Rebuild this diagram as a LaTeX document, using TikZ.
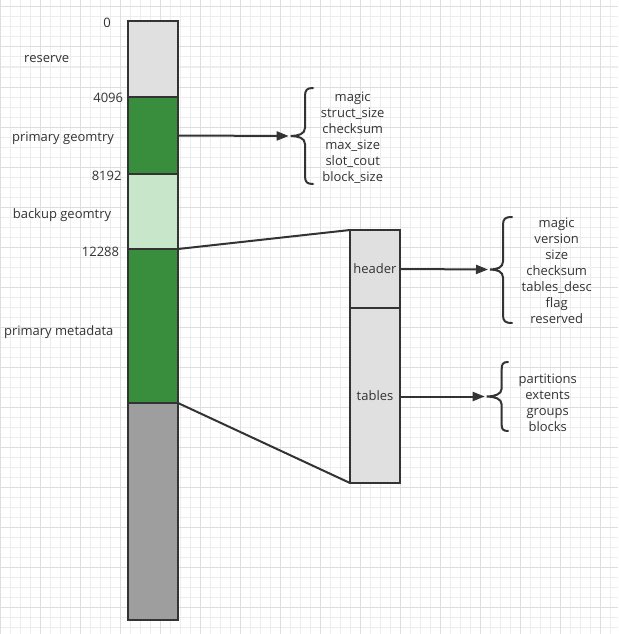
\documentclass[tikz,border=0pt]{standalone}
\usepackage{fontspec}
\setmainfont{Open Sans}
\usetikzlibrary{arrows.meta}
\definecolor{strk}{HTML}{333333}
\definecolor{txt}{HTML}{333333}
\definecolor{lgray}{HTML}{E0E0E0}
\definecolor{dgreen}{HTML}{388E3C}
\definecolor{lgreen}{HTML}{C8E6C9}
\definecolor{mgray}{HTML}{9E9E9E}
\definecolor{gminor}{HTML}{EDEDED}
\definecolor{gmajor}{HTML}{DEDEDE}
\tikzset{
  seg/.style={draw=strk, line width=2pt, minimum width=50pt, inner sep=0pt, outer sep=0pt, text=txt, font=\fontsize{13}{16}\selectfont},
  lbl/.style={text=txt, inner sep=0pt, font=\fontsize{13}{16}\selectfont, text height=9pt, text depth=3pt},
  lst/.style={text=txt, inner sep=0pt, align=center, font=\fontsize{13}{16}\selectfont},
  conn/.style={draw=strk, line width=2pt},
  arr/.style={draw=strk, line width=2pt, -{Triangle[length=12pt,width=9pt]}, shorten >=2pt},
  brc/.style={draw=strk, line width=2pt, line cap=round},
  gmin/.style={draw=gminor, line width=1pt},
  gmaj/.style={draw=gmajor, line width=1pt}
}
\begin{document}
\begin{tikzpicture}[x=1pt,y=-1pt]
\useasboundingbox (0,0) rectangle (618,634);
\fill[white] (0,0) rectangle (618,634);
% grid
\foreach \x in {0,10,...,610} \draw[gmin] (\x,0) -- (\x,634);
\foreach \y in {7,17,...,627} \draw[gmin] (0,\y) -- (618,\y);
\foreach \x in {0,40,...,600} \draw[gmaj] (\x,0) -- (\x,634);
\foreach \y in {7,47,...,607} \draw[gmaj] (0,\y) -- (618,\y);
% main column
\node[seg, fill=lgray, minimum height=76pt] (reserve) at (153,59) {};
\node[seg, fill=dgreen, minimum height=77pt] (pgeo) at (153,135.5) {};
\node[seg, fill=lgreen, minimum height=75pt] (bgeo) at (153,211.5) {};
\node[seg, fill=dgreen, minimum height=154pt] (pmeta) at (153,326) {};
\node[seg, fill=mgray, minimum height=217pt] (rest) at (153,511.5) {};
% labels
\node[lbl, anchor=east] (l0) at (111,24.5) {0};
\node[lbl] (lres) at (46.7,60) {reserve};
\node[lbl, anchor=east] (l4096) at (123.3,99.5) {4096};
\node[lbl] (lpg) at (63,138.5) {primary geomtry};
\node[lbl, anchor=east] (l8192) at (121.7,177) {8192};
\node[lbl] (lbg) at (62,215) {backup geomtry};
\node[lbl, anchor=east] (l12288) at (119.3,253.5) {12288};
\node[lbl] (lpm) at (58.7,332) {primary metadata};
% detail column
\node[seg, fill=lgray, minimum height=78pt] (header) at (375,269) {header};
\node[seg, fill=lgray, minimum height=175pt] (tables) at (375,395.5) {tables};
% connectors
\draw[conn] (pmeta.north east) -- (header.north west);
\draw[conn] (pmeta.south east) -- (tables.south west);
% braces
\coordinate (b1) at (290.7,136);
\draw[brc] (313,88) .. controls (307,88) and (305,90) .. (305,96) -- (305,128) .. controls (305,134) and (298,136) .. (b1) .. controls (298,136) and (305,138) .. (305,144) -- (305,176) .. controls (305,182) and (307,184) .. (313,184);
\coordinate (b2) at (490,269.5);
\draw[brc] (512,217) .. controls (505,217) and (503,219) .. (503,225) -- (503,261.5) .. controls (503,267.5) and (497,269.5) .. (b2) .. controls (497,269.5) and (503,271.5) .. (503,277.5) -- (503,315) .. controls (503,321) and (505,323) .. (512,323);
\coordinate (b3) at (486.7,396.5);
\draw[brc] (508,362) .. controls (503,362) and (501.7,364) .. (501.7,369) -- (501.7,388.5) .. controls (501.7,394.5) and (494,396.5) .. (b3) .. controls (494,396.5) and (501.7,398.5) .. (501.7,404.5) -- (501.7,425) .. controls (501.7,429) and (503,431) .. (508,431);
% lists
\node[lst] (list1) at (352.7,138.2) {magic\\struct\_size\\checksum\\max\_size\\slot\_cout\\block\_size};
\node[lst] (list2) at (556.7,271) {magic\\version\\size\\checksum\\tables\_desc\\flag\\reserved};
\node[lst] (list3) at (547.7,402.7) {partitions\\extents\\groups\\blocks};
% arrows
\draw[arr] (pgeo.east) -- (b1);
\draw[arr] (header.east) -- (b2);
\draw[arr] (tables.east |- b3) -- (b3);
\end{tikzpicture}
\end{document}
